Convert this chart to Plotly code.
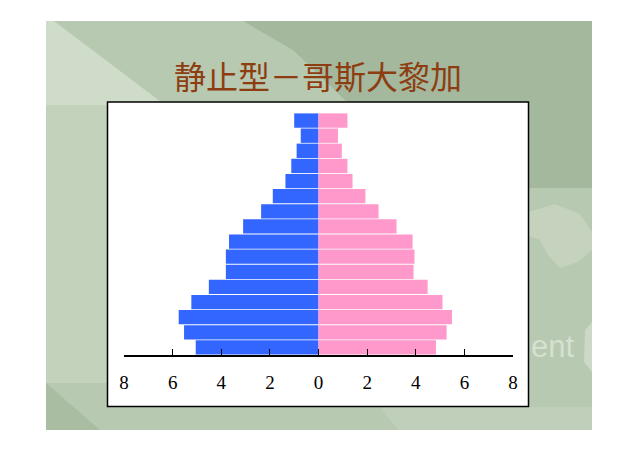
import plotly.graph_objects as go

# ---- data (bottom -> top age groups) ----
age_groups = ["0-4", "5-9", "10-14", "15-19", "20-24", "25-29", "30-34", "35-39",
              "40-44", "45-49", "50-54", "55-59", "60-64", "65-69", "70-74", "75+"]
male = [5.05, 5.53, 5.75, 5.23, 4.51, 3.81, 3.81, 3.68,
        3.10, 2.36, 1.88, 1.36, 1.12, 0.90, 0.73, 1.00]
female = [4.83, 5.27, 5.49, 5.10, 4.49, 3.91, 3.95, 3.87,
          3.21, 2.47, 1.93, 1.40, 1.19, 0.96, 0.80, 1.19]
tick_vals = [-8, -6, -4, -2, 0, 2, 4, 6, 8]
tick_text = ["8", "6", "4", "2", "0", "2", "4", "6", "8"]
title_text = "静止型－哥斯大黎加"

# page body has an 8px margin: work in window pixels and shift
OFF = 8
W, H = 638 - 2 * OFF, 452 - 2 * OFF
PW, PH = 389, 242
ML = 124 - OFF
MT = 113 - OFF
MR = W - ML - PW
MB = H - MT - PH


def px(x):
    return (x - OFF - ML) / PW


def py(y):
    return (H - MB - (y - OFF)) / PH


def poly(points):
    return "M " + " L ".join(f"{px(x):.5f},{py(y):.5f}" for x, y in points) + " Z"


ypos = list(range(len(age_groups)))

fig = go.Figure()
fig.add_trace(go.Bar(
    y=ypos, x=[-v for v in male], orientation="h", name="男",
    marker=dict(color="#3366FF", line=dict(width=0)),
    customdata=male, hovertemplate="%{customdata}<extra></extra>",
))
fig.add_trace(go.Bar(
    y=ypos, x=female, orientation="h", name="女",
    marker=dict(color="#FF99CC", line=dict(width=0)),
))


def sh(points, color, line=None):
    return dict(type="path", path=poly(points), xref="paper", yref="paper",
                fillcolor=color, line=line or dict(width=0), layer="below")


shapes = [
    sh([(46, 21), (592, 21), (592, 430), (46, 430)], "#b7c9b0"),
    sh([(46, 21), (54, 21), (165, 105), (46, 105)], "#cfdcc9"),
    sh([(46, 105), (110, 105), (110, 383), (46, 383)], "#c2d2bb"),
    sh([(46, 383), (100, 430), (46, 430)], "#a9bda2"),
    sh([(243, 21), (592, 21), (592, 188), (520, 188), (520, 105), (350, 105), (293, 50)], "#a3b89c"),
    sh([(529, 212), (555, 204), (580, 214), (592, 232), (592, 250), (578, 262), (560, 268),
        (548, 255), (540, 240), (529, 236)], "rgba(255,255,255,0.18)"),
    sh([(585, 330), (592, 322), (592, 372), (584, 362)], "rgba(255,255,255,0.3)"),
    sh([(380, 407), (592, 407), (592, 430), (398, 430)], "rgba(255,255,255,0.12)"),
    sh([(107.5, 102), (528.5, 102), (528.5, 406.5), (107.5, 406.5)], "white",
       dict(color="black", width=1.5)),
]

fig.update_layout(
    width=W, height=H,
    margin=dict(l=ML, r=MR, t=MT, b=MB, pad=0),
    paper_bgcolor="white", plot_bgcolor="rgba(0,0,0,0)",
    barmode="relative", bargap=0.05,
    showlegend=False,
    shapes=shapes,
    xaxis=dict(
        range=[-8, 8], tickvals=tick_vals, ticktext=tick_text,
        ticks="inside", ticklen=6, tickwidth=1, tickcolor="black",
        showline=True, linecolor="black", linewidth=1.5,
        showgrid=False, zeroline=False,
        tickfont=dict(family="Liberation Serif", size=19, color="black"),
        ticklabelstandoff=9,
        fixedrange=True,
    ),
    yaxis=dict(range=[-0.5, len(age_groups) - 0.5], visible=False, showgrid=False, fixedrange=True),
    annotations=[
        dict(text=title_text, x=px(318), y=py(75), xref="paper", yref="paper",
             showarrow=False, xanchor="center", yanchor="middle",
             font=dict(family="Noto Sans CJK TC", size=32, color="#8e3d12")),
        dict(text="ent", x=px(529), y=py(346), xref="paper", yref="paper",
             showarrow=False, xanchor="left", yanchor="middle",
             font=dict(family="Liberation Sans", size=31, color="rgba(235,242,232,0.6)")),
    ],
)

fig.write_html("out.html")
